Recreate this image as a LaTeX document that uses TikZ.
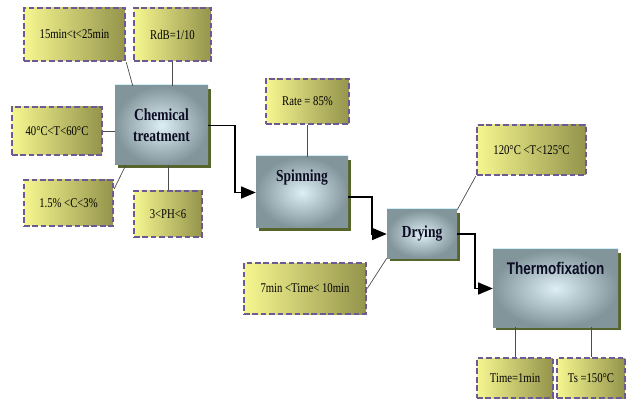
\documentclass[tikz,border=0pt]{standalone}
\usepackage{fontspec}
\setmainfont{Liberation Serif}
\newfontfamily\narrowserif[FakeStretch=0.8]{Liberation Serif}
\newfontfamily\narrowsans[FakeStretch=0.8]{Liberation Sans}
\usetikzlibrary{arrows}
\usetikzlibrary{shadows}

\definecolor{paramlight}{HTML}{F6F690}
\definecolor{paramdark}{HTML}{94944C}
\definecolor{dashpurple}{HTML}{6C5B93}
\definecolor{procouter}{HTML}{82959B}
\definecolor{procinner}{HTML}{DDEFF4}
\definecolor{procshadow}{HTML}{56652C}
\definecolor{proctop}{HTML}{CDEFF7}
\definecolor{proctext}{HTML}{0C0C24}

\begin{document}
\begin{tikzpicture}
\tikzstyle{caja parametro}=[draw=dashpurple,line width=1.8pt,dash pattern=on 4pt off 2pt,left color=paramlight,right color=paramdark,font=\narrowserif\fontsize{9.5}{11}\selectfont,inner sep=2pt]
\tikzstyle{caja proceso}=[shading=radial,inner color=procinner,outer color=procouter,general shadow={fill=procshadow,shadow xshift=2.2pt,shadow yshift=-2.2pt},general shadow={fill=proctop,shadow yshift=1.5pt},text=proctext,font=\narrowserif\bfseries\fontsize{12}{15}\selectfont,align=center]
\tikzstyle{titulo}=[text=proctext,font=\narrowserif\bfseries\fontsize{12}{15}\selectfont,anchor=north,yshift=-0.2cm]
\tikzstyle{flecha}=[-triangle 45,line width=1.4pt]
\tikzstyle{enlace}=[draw=black!70,line width=0.5pt]

\useasboundingbox (0,0) rectangle (15.65,-10.025);

\node[caja parametro,minimum width=2.525cm,minimum height=1.325cm] (tiempo) at (1.8625,-0.8625) {15min<t<25min};
\node[caja parametro,minimum width=1.925cm,minimum height=1.325cm] (bano) at (4.3125,-0.8625) {RdB=1/10};
\node[caja parametro,minimum width=2.25cm,minimum height=1.2cm] (temp) at (1.425,-3.275) {40°C<T<60°C};
\node[caja parametro,minimum width=2.225cm,minimum height=1.15cm] (conc) at (1.7125,-5.075) {1.5\% <C<3\%};
\node[caja parametro,minimum width=1.7cm,minimum height=1.15cm] (ph) at (4.2,-5.35) {3<PH<6};
\node[caja parametro,minimum width=2.075cm,minimum height=1.125cm] (tasa) at (7.6875,-2.5375) {Rate = 85\%};
\node[caja parametro,minimum width=2.725cm,minimum height=1.25cm] (tsec) at (13.2875,-3.75) {120°C <T<125°C};
\node[caja parametro,minimum width=3.05cm,minimum height=1.275cm] (tiemposec) at (7.625,-7.2125) {7min <Time< 10min};
\node[caja parametro,minimum width=1.9cm,minimum height=1.0cm] (tfijo) at (12.875,-9.45) {Time=1min};
\node[caja parametro,minimum width=1.7cm,minimum height=1.0cm] (ts) at (14.775,-9.45) {Ts =150°C};

\node[caja proceso,minimum width=2.325cm,minimum height=1.975cm] (quimico) at (4.0375,-3.1375) {Chemical\\treatment};
\node[caja proceso,minimum width=2.3cm,minimum height=1.775cm,label={[titulo]north:Spinning}] (hilado) at (7.55,-4.8125) {};
\node[caja proceso,minimum width=1.75cm,minimum height=1.2cm] (secado) at (10.55,-5.85) {Drying};
\node[caja proceso,minimum width=3.125cm,minimum height=1.925cm,label={[titulo,font=\narrowsans\bfseries\fontsize{12}{15}\selectfont]north:Thermofixation}] (termo) at (13.8875,-7.2125) {};

\draw[flecha] (quimico.east) -- ++(0.675,0) |- (hilado.west);
\draw[flecha] ([yshift=-0.11cm]hilado.east) -- ++(0.6,0) |- (secado.west);
\draw[flecha] (secado.east) -- ++(0.45,0) |- (termo.west);

\draw[enlace] (tiempo.south east) -- ([xshift=0.45cm]quimico.north west);
\draw[enlace] (bano.south) -- (bano.south |- quimico.north);
\draw[enlace] (temp.east) -- (temp.east -| quimico.west);
\draw[enlace] ([yshift=-0.25cm]conc.north east) -- ([xshift=0.275cm]quimico.south west);
\draw[enlace] (ph.north) -- (ph.north |- quimico.south);
\draw[enlace] (tasa.south) -- (tasa.south |- hilado.north);
\draw[enlace] (tsec.south west) -- (secado.north east);
\draw[enlace] (tiemposec.east) -- (secado.south west);
\draw[enlace] (tfijo.north) -- (tfijo.north |- termo.south);
\draw[enlace] (ts.north) -- (ts.north |- termo.south);
\end{tikzpicture}
\end{document}
